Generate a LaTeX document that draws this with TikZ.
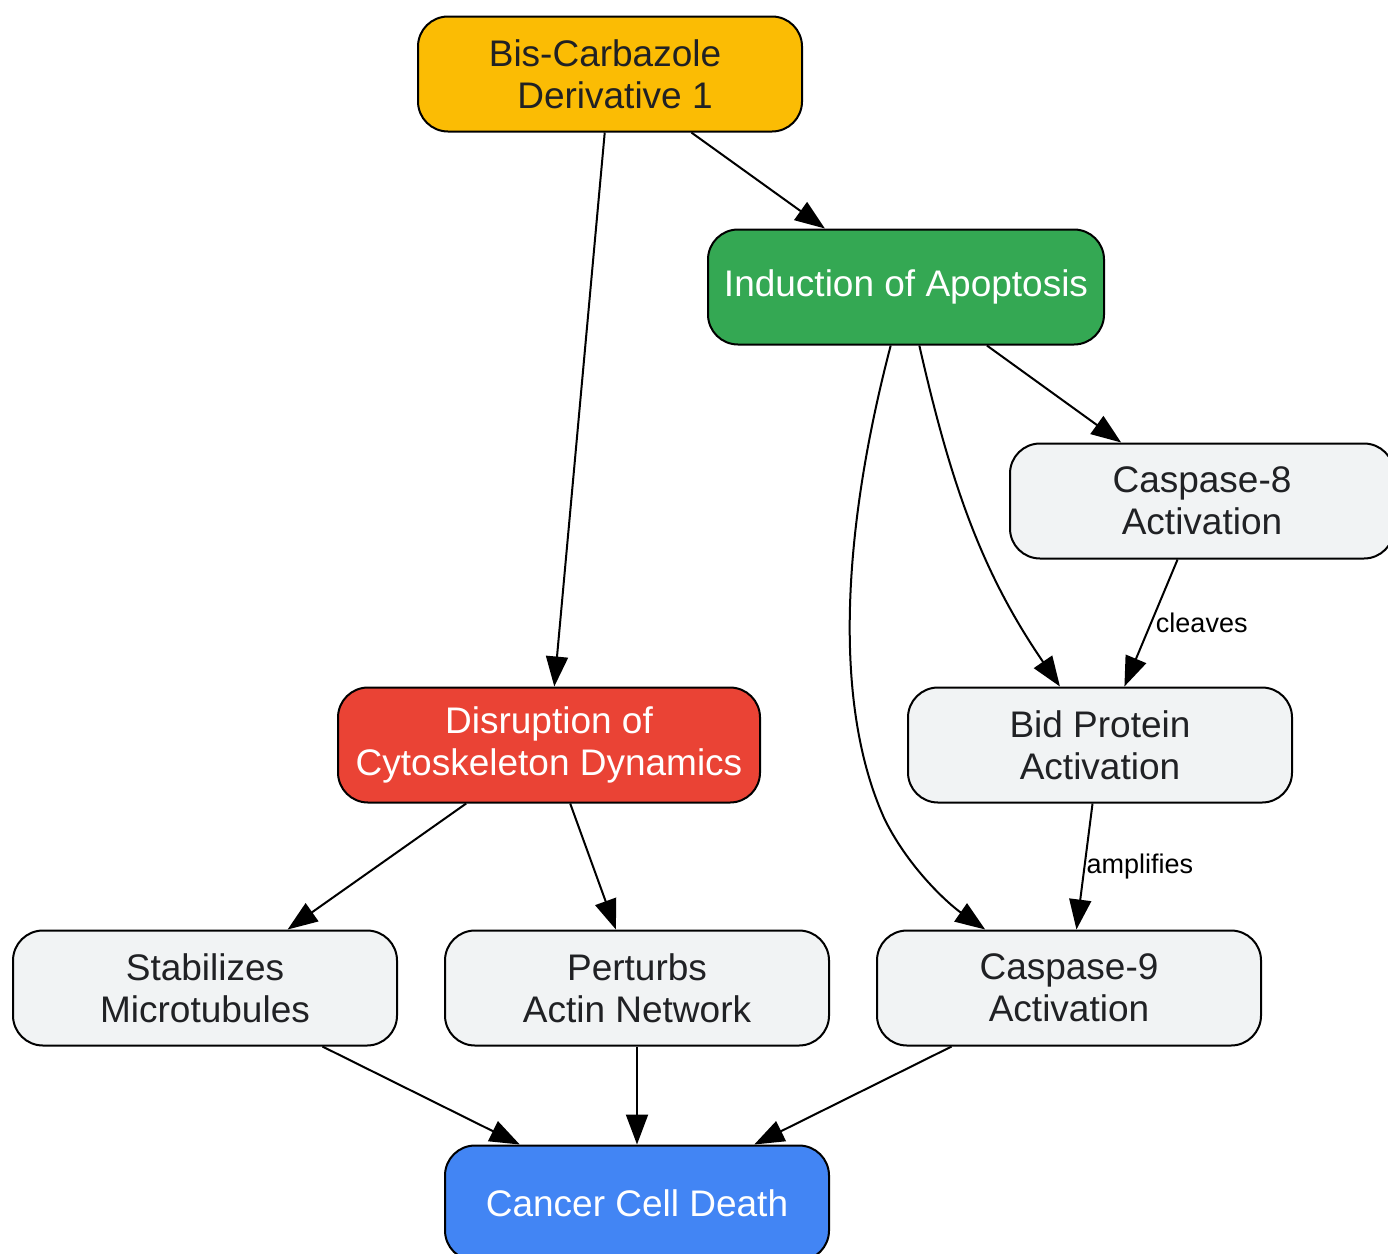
\documentclass[tikz,border=0pt]{standalone}
\usepackage{fontspec}
\setmainfont{Liberation Sans}
\usetikzlibrary{arrows.meta}
\definecolor{txtgrey}{HTML}{202124}
\definecolor{boxgrey}{HTML}{F1F3F4}
\definecolor{gyellow}{HTML}{FBBC04}
\definecolor{ggreen}{HTML}{34A853}
\definecolor{gred}{HTML}{EA4335}
\definecolor{gblue}{HTML}{4285F4}

\begin{document}
\begin{tikzpicture}[x=1pt, y=-1pt,
  box/.style={draw=black, line width=2pt, rounded corners=30pt, fill=boxgrey,
    text=txtgrey, minimum width=384pt, minimum height=115pt, inner sep=0pt,
    align=center, font=\fontsize{37}{42}\selectfont},
  edge/.style={line width=2pt, -{Triangle[length=30pt,width=22pt]}},
  lbl/.style={font=\fontsize{27}{30}\selectfont, text=black, anchor=west, inner sep=4pt}]
\useasboundingbox (0,0) rectangle (1388,1253);
% nodes
\node[box, fill=gyellow] (drug) at (610,74) {Bis-Carbazole\hspace*{10pt}\\\hspace*{10pt}Derivative 1};
\node[box, fill=ggreen, text=white, minimum width=396pt] (apop) at (906,287) {Induction of Apoptosis};
\node[box] (casp8) at (1202,501) {Caspase-8\\Activation};
\node[box, fill=gred, text=white, minimum width=422pt] (disr) at (549,745) {Disruption of\\Cytoskeleton Dynamics};
\node[box] (bid) at (1100,745) {Bid Protein\\Activation};
\node[box] (stab) at (205,988) {Stabilizes\\Microtubules};
\node[box] (actin) at (637,988) {Perturbs\\Actin Network};
\node[box] (casp9) at (1069,988) {Caspase-9\\Activation};
\node[box, fill=gblue, text=white] (death) at (637,1203) {Cancer Cell Death};
% edges
\draw[edge] (drug) -- (disr);
\draw[edge] (drug) -- (apop);
\draw[edge] (apop) -- (casp8);
\draw[edge] (apop) .. controls (950,480) and (980,570) .. (bid);
\draw[edge] (apop) .. controls (845,520) and (830,700) .. (885,820)
  .. controls (910,870) and (950,905) .. (casp9);
\draw[edge] (casp8) -- node[lbl, midway] {cleaves} (bid);
\draw[edge] (bid) -- node[lbl, midway, inner sep=1pt] {amplifies} (casp9);
\draw[edge] (disr) -- (stab);
\draw[edge] (disr) -- (actin);
\draw[edge] (stab) -- (death);
\draw[edge] (actin) -- (death);
\draw[edge] (casp9) -- (death);
\end{tikzpicture}
\end{document}
